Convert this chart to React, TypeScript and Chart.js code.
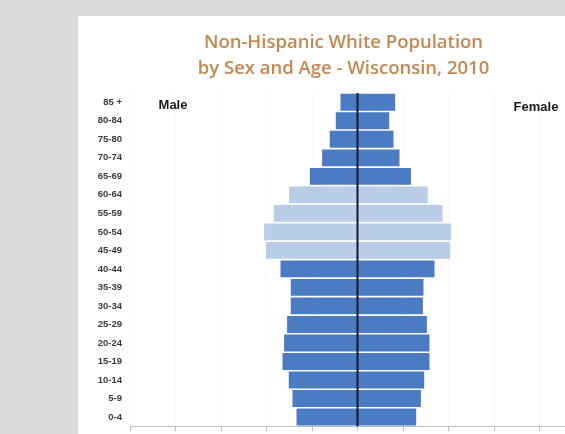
import { useEffect, useRef } from "react";
import { Chart, registerables } from "chart.js";

Chart.register(...registerables);

// Age groups, top to bottom
const ageGroups = [
  "85 +", "80-84", "75-80", "70-74", "65-69", "60-64", "55-59", "50-54", "45-49",
  "40-44", "35-39", "30-34", "25-29", "20-24", "15-19", "10-14", "5-9", "0-4",
];

// Population counts per age group
const malePop = [
  37400, 47700, 60900, 77800, 104800, 150300, 184000, 205300, 201500,
  169200, 146600, 146600, 154700, 161300, 164800, 151000, 142900, 134000,
];
const femalePop = [
  82900, 69700, 79100, 92300, 117400, 154300, 186800, 206000, 203800,
  169200, 145000, 143700, 152500, 158200, 158200, 146600, 139400, 129000,
];

// Baby-boom cohorts drawn in the lighter shade
const boomerGroups = ["60-64", "55-59", "50-54", "45-49"];

const titleLines = ["Non-Hispanic White Population", "by Sex and Age - Wisconsin, 2010"];
const sexLabels = ["Male", "Female"];

const axisMax = 500000;
const axisStep = 100000;

const DARK = "#4a7bc3";
const LIGHT = "#b9cde6";
const TITLE_COLOR = "#c68750";

const barColors = ageGroups.map((g) => (boomerGroups.includes(g) ? LIGHT : DARK));

// Draws the two-line heading, the centre axis and the Male / Female captions
const overlayPlugin = {
  id: "pyramidOverlay",
  afterDatasetsDraw(chart: any) {
    const { ctx, chartArea, scales } = chart;
    const x0 = scales.x.getPixelForValue(0);
    ctx.save();
    // centre axis
    ctx.strokeStyle = "#0f1a2b";
    ctx.lineWidth = 2;
    ctx.beginPath();
    ctx.moveTo(x0, chartArea.top);
    ctx.lineTo(x0, chartArea.bottom);
    ctx.stroke();
    // side captions
    ctx.font = 'bold 13px "Liberation Sans", sans-serif';
    ctx.fillStyle = "#1a1a1a";
    ctx.textAlign = "center";
    ctx.textBaseline = "middle";
    ctx.fillText(sexLabels[0], chartArea.left + 43, chartArea.top + 12);
    ctx.fillText(sexLabels[1], chartArea.right - 49, chartArea.top + 14);
    // heading
    ctx.font = '600 18.5px "Open Sans", sans-serif';
    ctx.fillStyle = TITLE_COLOR;
    const cx = x0 - 14;
    titleLines.forEach((line, i) => {
      ctx.fillText(line, cx, chartArea.top - 50 + i * 26);
    });
    ctx.restore();
  },
};

export default function App() {
  const canvasRef = useRef<HTMLCanvasElement | null>(null);

  useEffect(() => {
    if (!canvasRef.current) return;
    const chart = new Chart(canvasRef.current, {
      type: "bar",
      data: {
        labels: ageGroups,
        datasets: [
          {
            label: sexLabels[0],
            data: malePop.map((v) => -v),
            backgroundColor: barColors,
            borderWidth: 0,
            barPercentage: 0.91,
            categoryPercentage: 1,
          },
          {
            label: sexLabels[1],
            data: femalePop,
            backgroundColor: barColors,
            borderWidth: 0,
            barPercentage: 0.91,
            categoryPercentage: 1,
          },
        ],
      },
      options: {
        indexAxis: "y",
        responsive: false,
        animation: false,
        layout: { padding: { left: 0, right: 17, top: 77, bottom: 2 } },
        plugins: {
          legend: { display: false },
          tooltip: { enabled: false },
          title: { display: false },
        },
        scales: {
          x: {
            stacked: true,
            min: -axisMax,
            max: axisMax,
            ticks: { display: false, stepSize: axisStep },
            grid: {
              color: "#f7f7f7",
              tickColor: "#bdbdbd",
              tickLength: 5,
            },
            border: { display: true, color: "#bdbdbd", width: 1 },
          },
          y: {
            stacked: true,
            ticks: {
              color: "#3a3a3a",
              padding: 8,
              font: { family: '"Liberation Sans", sans-serif', size: 9.5, weight: "bold" },
            },
            grid: { display: false, drawTicks: false },
            border: { display: false },
            afterFit: (scale: any) => {
              scale.width = 52;
            },
          },
        },
      },
      plugins: [overlayPlugin],
    });
    return () => chart.destroy();
  }, []);

  return (
    <div
      style={{
        position: "fixed",
        left: 0,
        top: 0,
        width: 565,
        height: 434,
        overflow: "hidden",
        background: "#d9d9d9",
      }}
    >
      <div
        style={{
          position: "absolute",
          left: 78,
          top: 16,
          width: 524,
          height: 430,
          background: "#ffffff",
        }}
      >
        <canvas ref={canvasRef} width={524} height={424} style={{ display: "block" }} />
      </div>
    </div>
  );
}
